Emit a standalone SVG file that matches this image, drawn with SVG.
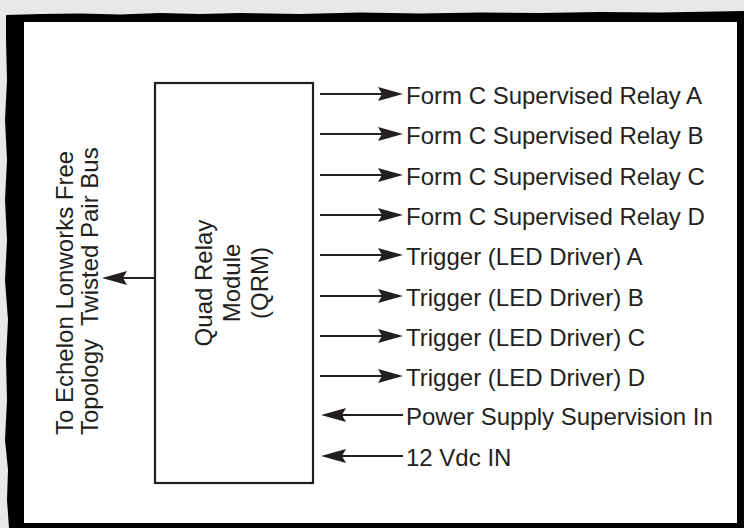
<svg xmlns="http://www.w3.org/2000/svg" width="744" height="528" viewBox="0 0 744 528">
<defs>
<style>
.t{font-family:"Liberation Sans",Arial,Helvetica,sans-serif;font-size:24px;fill:#231f20}
.ln{stroke:#231f20;stroke-width:2.2;fill:none}
.ah{fill:#231f20}
</style>
<path id="hr" d="M0,0 L-25,-7 L-21,0 L-25,7 Z"/>
</defs>
<rect width="744" height="528" fill="#e8e8e8"/>
<path fill="#000" d="M6,15 L40,14 L80,13.5 L120,14.5 L160,13 L200,14 L240,13 L300,14 L360,12.5 L420,13.5 L480,12.5 L540,13 L600,12 L660,12.5 L744,11 L744,528 L9,528 L7,500 L8,470 L5,440 L7,400 L6,360 L8,320 L5,280 L7,240 L5,200 L7,160 L5,120 L7,80 L6,40 Z"/>
<rect x="24" y="22" width="713" height="501" fill="#fff"/>
<g id="qrm">
<rect x="155" y="83" width="158" height="400" fill="#fff" stroke="#231f20" stroke-width="2.2"/>
<text class="t" text-anchor="middle" transform="translate(212,283) rotate(-90)">Quad Relay</text>
<text class="t" text-anchor="middle" transform="translate(240,283) rotate(-90)">Module</text>
<text class="t" text-anchor="middle" transform="translate(268,283) rotate(-90)">(QRM)</text>
</g>
<g id="bus-label">
<text class="t" transform="translate(73,435) rotate(-90)">To Echelon Lonworks Free</text>
<text class="t" xml:space="preserve" transform="translate(98,435) rotate(-90)">Topology  Twisted Pair Bus</text>
</g>
<g id="connectors">
<line class="ln" x1="155" y1="278" x2="122" y2="278"/>
<use href="#hr" class="ah" transform="translate(102,278) rotate(180)"/>
<line class="ln" x1="320" y1="94" x2="384" y2="94"/><use href="#hr" class="ah" transform="translate(403,94)"/>
<line class="ln" x1="320" y1="134" x2="384" y2="134"/><use href="#hr" class="ah" transform="translate(403,134)"/>
<line class="ln" x1="320" y1="175" x2="384" y2="175"/><use href="#hr" class="ah" transform="translate(403,175)"/>
<line class="ln" x1="320" y1="215" x2="384" y2="215"/><use href="#hr" class="ah" transform="translate(403,215)"/>
<line class="ln" x1="320" y1="255" x2="384" y2="255"/><use href="#hr" class="ah" transform="translate(403,255)"/>
<line class="ln" x1="320" y1="296" x2="384" y2="296"/><use href="#hr" class="ah" transform="translate(403,296)"/>
<line class="ln" x1="320" y1="336" x2="384" y2="336"/><use href="#hr" class="ah" transform="translate(403,336)"/>
<line class="ln" x1="320" y1="376" x2="384" y2="376"/><use href="#hr" class="ah" transform="translate(403,376)"/>
<line class="ln" x1="403" y1="415" x2="339" y2="415"/><use href="#hr" class="ah" transform="translate(321,415) rotate(180)"/>
<line class="ln" x1="403" y1="456" x2="339" y2="456"/><use href="#hr" class="ah" transform="translate(321,456) rotate(180)"/>
</g>
<g id="signals">
<text class="t" x="406" y="104">Form C Supervised Relay A</text>
<text class="t" x="406" y="144">Form C Supervised Relay B</text>
<text class="t" x="406" y="185">Form C Supervised Relay C</text>
<text class="t" x="406" y="225">Form C Supervised Relay D</text>
<text class="t" x="406" y="265">Trigger (LED Driver) A</text>
<text class="t" x="406" y="306">Trigger (LED Driver) B</text>
<text class="t" x="406" y="346">Trigger (LED Driver) C</text>
<text class="t" x="406" y="386">Trigger (LED Driver) D</text>
<text class="t" x="406" y="425">Power Supply Supervision In</text>
<text class="t" x="406" y="466">12 Vdc IN</text>
</g>
</svg>
